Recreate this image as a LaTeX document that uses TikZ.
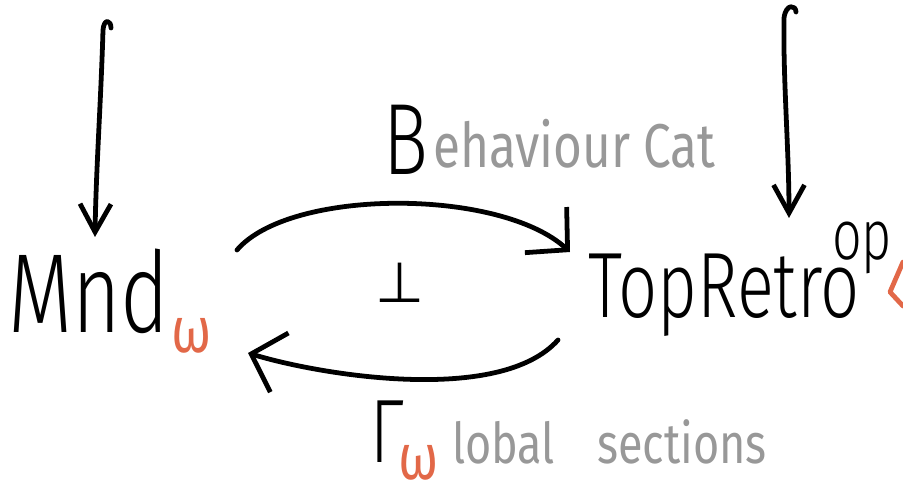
\documentclass[tikz,border=0pt]{standalone}
\usepackage{fontspec}
\usepackage{tikz}
\usetikzlibrary{arrows.meta,positioning}
\newfontfamily\handfont{Fira Sans Light}[FakeStretch=0.74]
\newfontfamily\smallhand{Fira Sans}[FakeStretch=0.8]
\newfontfamily\symfont{DejaVu Sans}
\definecolor{hwgrey}{RGB}{152,152,152}
\definecolor{hworange}{RGB}{226,104,72}
\tikzstyle{ink} = [line width=3.4pt, line cap=round, line join=round, color=black]
\tikzstyle{downarrow} = [ink, -{Straight Barb[length=20pt,width=22pt]}]
\tikzstyle{bendarrow} = [ink, -{Straight Barb[length=21pt,width=44pt]}]
\tikzstyle{cat} = [inner sep=0pt, anchor=base west]
\tikzstyle{sub} = [inner sep=0pt, anchor=base west, text=hworange, font=\smallhand\fontsize{46}{46}\selectfont]

\begin{document}
\begin{tikzpicture}[x=0.025cm, y=-0.025cm]
\useasboundingbox (0,0) rectangle (903,490);
% the two categories
\node (mnd) [cat, font=\handfont\fontsize{80}{80}\selectfont] at (8,333) {Mnd};
\node (mndw) [sub] at (171,353) {ω};
\node (topretro) [cat, font=\handfont\fontsize{66}{66}\selectfont] at (588,318) {TopRetro};
\node (opsup) [cat, font=\handfont\fontsize{50}{50}\selectfont] at (832,260) {op};
\draw[ink, color=hworange] (903,262) -- (890,292) -- (903,306);

% functor names
\node (bigB) [cat, font=\handfont\fontsize{72}{72}\selectfont] at (383,175) {B};
\node (behav) [cat, text=hwgrey, font=\smallhand\fontsize{44}{44}\selectfont] at (433,168) {ehaviour Cat};
\node (gamma) [cat, font=\handfont\fontsize{64}{64}\selectfont] at (370,463) {Γ};
\node (gammaw) [sub] at (398,480) {ω};
\node (glob) [cat, text=hwgrey, font=\smallhand\fontsize{40}{40}\selectfont] at (452,464) {lobal\hspace{0.75em}sections};
\node (adj) [inner sep=0pt, anchor=base, font=\symfont\fontsize{40}{40}\selectfont] at (400,303) {⊥};

% end points of the arrows
\coordinate (srcL) at (111,28);
\coordinate (tipL) at (95,237);
\coordinate (srcR) at (796,12);
\coordinate (tipR) at (789,218);
\coordinate (leftA) at (237,250);
\coordinate (rightA) at (570,252);
\coordinate (rightB) at (558,340);
\coordinate (leftB) at (248,353);

% incoming arrows
\draw[downarrow] (srcL) .. controls (111,20) and (104,18) .. (103,30) .. controls (101,100) and (96,170) .. (tipL);
\draw[downarrow] (srcR) .. controls (796,5) and (786,3) .. (784,18) .. controls (783,80) and (789,150) .. (tipR);

% the adjunction
\draw[bendarrow] (leftA) .. controls (290,188) and (500,188) .. (rightA);
\draw[bendarrow] (rightB) .. controls (500,405) and (320,375) .. (leftB);
\end{tikzpicture}
\end{document}
